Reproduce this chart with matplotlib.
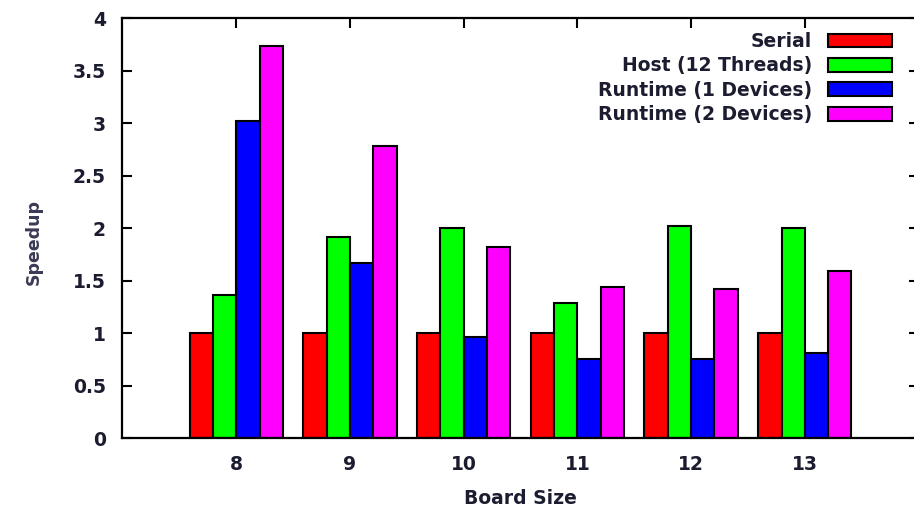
import matplotlib
matplotlib.use("Agg")
import matplotlib.pyplot as plt
import numpy as np

# Speedup per board size
board_sizes = [8, 9, 10, 11, 12, 13]
serial = [1.0, 1.0, 1.0, 1.0, 1.0, 1.0]
host_12 = [1.36, 1.92, 2.0, 1.29, 2.02, 2.0]
runtime_1 = [3.02, 1.67, 0.96, 0.75, 0.75, 0.81]
runtime_2 = [3.74, 2.78, 1.82, 1.44, 1.42, 1.59]

series = [
    ("Serial", serial, "#ff0000"),
    ("Host (12 Threads)", host_12, "#00ff00"),
    ("Runtime (1 Devices)", runtime_1, "#0000ff"),
    ("Runtime (2 Devices)", runtime_2, "#ff00ff"),
]

text_color = "#1c1c30"
fs = 13.5
plt.rcParams["font.family"] = "DejaVu Sans"
plt.rcParams["font.weight"] = "bold"

W, H = 914, 512
fig = plt.figure(figsize=(W / 100, H / 100), dpi=100)
ax = fig.add_axes([0.134, 0.1445, 0.871, 0.8195])

x = np.arange(len(board_sizes))
width = 0.205
offsets = [-1.5, -0.5, 0.5, 1.5]
for (label, vals, color), off in zip(series, offsets):
    ax.bar(x + off * width, vals, width, color=color, edgecolor="black",
           linewidth=1.5, label=label, zorder=2)

ax.set_xlim(-1, 6)
ax.set_ylim(0, 4)
ax.set_xticks(x)
ax.set_xticklabels([str(b) for b in board_sizes])
ax.set_yticks(np.arange(0, 4.01, 0.5))
ax.set_yticklabels(["0", "0.5", "1", "1.5", "2", "2.5", "3", "3.5", "4"])

ax.tick_params(axis="x", top=True, bottom=False, direction="in", length=7,
               width=1.5, pad=12, labelsize=fs, labelcolor=text_color)
ax.tick_params(axis="y", left=True, right=True, direction="in", length=7,
               width=1.5, pad=12, labelsize=fs, labelcolor=text_color)
for sp in ax.spines.values():
    sp.set_linewidth(1.6)

# axis titles placed where the reference has them
fig.text(520 / W, 1 - 498 / H, "Board Size", fontsize=fs, color=text_color,
         ha="center", va="center")
fig.text(34 / W, 1 - 242 / H, "Speedup", fontsize=fs - 1, color="#3a3a55",
         ha="center", va="center", rotation=90)

leg = ax.legend(loc="upper right", bbox_to_anchor=(892 / W, 1 - 32 / H),
                bbox_transform=fig.transFigure, frameon=False,
                fontsize=fs, markerfirst=False, handlelength=3.4,
                handleheight=0.75, labelspacing=0.29, handletextpad=0.85,
                borderpad=0, borderaxespad=0)
for t in leg.get_texts():
    t.set_color(text_color)

fig.savefig("out.png", dpi=100)
